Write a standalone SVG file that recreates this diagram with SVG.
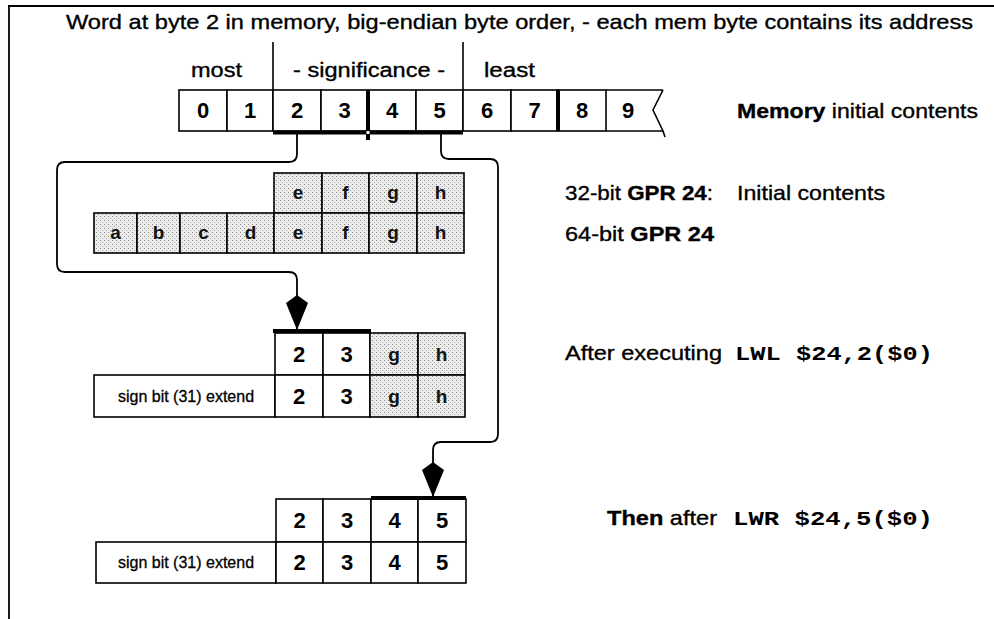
<svg xmlns="http://www.w3.org/2000/svg" width="994" height="619" viewBox="0 0 994 619">
<style>
text{font-family:"Liberation Sans",Arial,sans-serif;fill:#000}
.t{font-size:21px;stroke:#000;stroke-width:0.35}
.h{font-size:20px;stroke:#000;stroke-width:0.35}
.d{font-size:22px;font-weight:bold;text-anchor:middle}
.l{font-size:19px;font-weight:bold;text-anchor:middle;fill:#111}
.s{font-size:16px;text-anchor:middle;stroke:#000;stroke-width:0.3}
.m{font-family:"Liberation Mono","Courier New",monospace;font-size:20px;font-weight:bold}
.b{font-weight:bold}
.c{fill:#fff;stroke:#000;stroke-width:1.6}
.g{fill:url(#dots);stroke:#000;stroke-width:1.6}
.k{stroke:#000;stroke-width:4;fill:none}
.ln{stroke:#000;stroke-width:1.6;fill:none}
.con{stroke:#000;stroke-width:1.8;fill:none}
</style>
<defs>
<pattern id="dots" width="4" height="4" patternUnits="userSpaceOnUse">
<rect width="4" height="4" fill="#ececec"/>
<rect x="0" y="0" width="1" height="1" fill="#8a8a8a"/>
<rect x="2" y="2" width="1" height="1" fill="#a8a8a8"/>
</pattern>
<marker id="kite" markerUnits="userSpaceOnUse" markerWidth="40" markerHeight="26" viewBox="0 -13 36 26" refX="35" refY="0" orient="auto">
<path d="M0,0 L8,-11 L35,0 L8,11 Z" fill="#000"/>
</marker>
</defs>
<rect width="994" height="619" fill="#fff"/>
<g id="frame">
<line x1="8" y1="6" x2="994" y2="6" stroke="#000" stroke-width="2"/>
<line x1="9" y1="5" x2="9" y2="619" stroke="#000" stroke-width="1.8"/>
</g>
<g id="title">
<text class="t" x="66" y="29" textLength="907" lengthAdjust="spacingAndGlyphs">Word at byte 2 in memory, big-endian byte order, - each mem byte contains its address</text>
</g>
<g id="significance">
<line class="ln" x1="273" y1="42" x2="273" y2="90"/>
<line class="ln" x1="463" y1="42" x2="463" y2="90"/>
<text class="h" x="191" y="77" textLength="51" lengthAdjust="spacingAndGlyphs">most</text>
<text class="h" x="293" y="77" textLength="152" lengthAdjust="spacingAndGlyphs">- significance -</text>
<text class="h" x="484" y="77" textLength="51" lengthAdjust="spacingAndGlyphs">least</text>
</g>
<g id="memory">
<rect class="c" x="179" y="90" width="48" height="41"/>
<rect class="c" x="227" y="90" width="46" height="41"/>
<rect class="c" x="273" y="90" width="48" height="41"/>
<rect class="c" x="321" y="90" width="47" height="41"/>
<rect class="c" x="368" y="90" width="48" height="41"/>
<rect class="c" x="416" y="90" width="47" height="41"/>
<rect class="c" x="463" y="90" width="48" height="41"/>
<rect class="c" x="511" y="90" width="47" height="41"/>
<rect class="c" x="558" y="90" width="48" height="41"/>
<line class="ln" x1="606" y1="90" x2="663" y2="90"/>
<line class="ln" x1="606" y1="131" x2="663" y2="131"/>
<path class="ln" d="M663,90 L653,110 L663,131 L665,137"/>
<line class="k" x1="558" y1="90" x2="558" y2="131"/>
<line class="k" x1="273" y1="132.5" x2="463" y2="132.5"/>
<line class="k" x1="368" y1="90" x2="368" y2="140"/>
<rect x="366.5" y="131" width="3" height="3" fill="#fff"/>
<text class="d" x="203" y="118">0</text>
<text class="d" x="250" y="118">1</text>
<text class="d" x="297" y="118">2</text>
<text class="d" x="344.5" y="118">3</text>
<text class="d" x="392" y="118">4</text>
<text class="d" x="439.5" y="118">5</text>
<text class="d" x="487" y="118">6</text>
<text class="d" x="534.5" y="118">7</text>
<text class="d" x="582" y="118">8</text>
<text class="d" x="628" y="118">9</text>
</g>
<g id="gpr32">
<rect class="g" x="274" y="173" width="48" height="40"/>
<rect class="g" x="322" y="173" width="47" height="40"/>
<rect class="g" x="369" y="173" width="48" height="40"/>
<rect class="g" x="417" y="173" width="47" height="40"/>
<text class="l" x="298" y="199">e</text>
<text class="l" x="345.5" y="199">f</text>
<text class="l" x="393" y="199">g</text>
<text class="l" x="440.5" y="199">h</text>
</g>
<g id="gpr64">
<rect class="g" x="94" y="213" width="43" height="40"/>
<rect class="g" x="137" y="213" width="43" height="40"/>
<rect class="g" x="180" y="213" width="47" height="40"/>
<rect class="g" x="227" y="213" width="47" height="40"/>
<rect class="g" x="274" y="213" width="48" height="40"/>
<rect class="g" x="322" y="213" width="47" height="40"/>
<rect class="g" x="369" y="213" width="48" height="40"/>
<rect class="g" x="417" y="213" width="47" height="40"/>
<text class="l" x="115.5" y="239">a</text>
<text class="l" x="158.5" y="239">b</text>
<text class="l" x="203.5" y="239">c</text>
<text class="l" x="250.5" y="239">d</text>
<text class="l" x="298" y="239">e</text>
<text class="l" x="345.5" y="239">f</text>
<text class="l" x="393" y="239">g</text>
<text class="l" x="440.5" y="239">h</text>
</g>
<g id="lwl">
<rect class="c" x="275" y="333" width="48" height="42"/>
<rect class="c" x="323" y="333" width="47" height="42"/>
<rect class="g" x="370" y="333" width="48" height="42"/>
<rect class="g" x="418" y="333" width="47" height="42"/>
<rect class="c" x="94" y="375" width="181" height="42"/>
<rect class="c" x="275" y="375" width="48" height="42"/>
<rect class="c" x="323" y="375" width="47" height="42"/>
<rect class="g" x="370" y="375" width="48" height="42"/>
<rect class="g" x="418" y="375" width="47" height="42"/>
<line class="k" x1="273" y1="331" x2="371" y2="331"/>
<text class="d" x="299" y="362">2</text>
<text class="d" x="346.5" y="362">3</text>
<text class="l" x="394" y="361">g</text>
<text class="l" x="441.5" y="361">h</text>
<text class="s" x="186" y="402">sign bit (31) extend</text>
<text class="d" x="299" y="404">2</text>
<text class="d" x="346.5" y="404">3</text>
<text class="l" x="394" y="403">g</text>
<text class="l" x="441.5" y="403">h</text>
</g>
<g id="lwr">
<rect class="c" x="276" y="499" width="47" height="43"/>
<rect class="c" x="323" y="499" width="48" height="43"/>
<rect class="c" x="371" y="499" width="47" height="43"/>
<rect class="c" x="418" y="499" width="48" height="43"/>
<rect class="c" x="96" y="542" width="180" height="41"/>
<rect class="c" x="276" y="542" width="47" height="41"/>
<rect class="c" x="323" y="542" width="48" height="41"/>
<rect class="c" x="371" y="542" width="47" height="41"/>
<rect class="c" x="418" y="542" width="48" height="41"/>
<line class="k" x1="371" y1="498" x2="466" y2="498"/>
<text class="d" x="299.5" y="528">2</text>
<text class="d" x="347" y="528">3</text>
<text class="d" x="394.5" y="528">4</text>
<text class="d" x="442" y="528">5</text>
<text class="s" x="186" y="568">sign bit (31) extend</text>
<text class="d" x="299.5" y="570">2</text>
<text class="d" x="347" y="570">3</text>
<text class="d" x="394.5" y="570">4</text>
<text class="d" x="442" y="570">5</text>
</g>
<g id="connectors">
<path class="con" d="M297,134 V154 Q297,162 289,162 H65 Q57,162 57,170 V264 Q57,272 65,272 H289 Q297,272 297,280 V330" marker-end="url(#kite)"/>
<path class="con" d="M441,134 V151 Q441,159 449,159 H490 Q498,159 498,167 V434 Q498,442 490,442 H441 Q433,442 433,450 V497" marker-end="url(#kite)"/>
</g>
<g id="labels">
<text class="t" x="737" y="118" textLength="241" lengthAdjust="spacingAndGlyphs"><tspan class="b">Memory</tspan> initial contents</text>
<text class="t" x="565" y="200" textLength="148" lengthAdjust="spacingAndGlyphs">32-bit <tspan class="b">GPR 24</tspan>:</text>
<text class="t" x="737" y="200" textLength="148" lengthAdjust="spacingAndGlyphs">Initial contents</text>
<text class="t" x="565" y="241" textLength="149" lengthAdjust="spacingAndGlyphs">64-bit <tspan class="b">GPR 24</tspan></text>
<text class="t" x="565" y="360" textLength="157" lengthAdjust="spacingAndGlyphs">After executing</text>
<text class="m" x="735" y="360" textLength="198" lengthAdjust="spacingAndGlyphs">LWL $24,2($0)</text>
<text class="t" x="607" y="525" textLength="110" lengthAdjust="spacingAndGlyphs"><tspan class="b">Then</tspan> after</text>
<text class="m" x="733" y="525" textLength="200" lengthAdjust="spacingAndGlyphs">LWR $24,5($0)</text>
</g>
</svg>
